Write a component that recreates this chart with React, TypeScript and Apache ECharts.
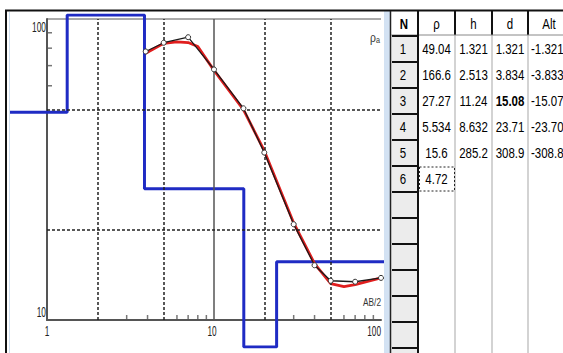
import { useEffect, useRef } from "react";
import * as echarts from "echarts";

// Field sounding curve: AB/2 spacing (m) and apparent resistivity (Ohm·m)
const ab2Field = [3.9, 5, 7, 10, 15, 20, 30, 40, 50, 70, 100];
const rhoField = [78, 83.4, 87, 68, 50.5, 36, 20.8, 15.2, 13.5, 13.4, 13.8];

// Theoretical curve of the layered model
const ab2Model = [3.9, 5, 6, 7, 8, 10, 15, 20, 30, 40, 50, 60, 70, 100];
const rhoModel = [77, 83, 84, 83.5, 81, 67.5, 50, 36.5, 21, 15.4, 13.2, 12.9, 13.1, 13.8];

// Layer table: resistivity, thickness, depth to bottom, altitude of bottom
const layerRho = [49.04, 166.6, 27.27, 5.534, 15.6, 4.72];
const layerH = [1.321, 2.513, 11.24, 8.632, 285.2];
const layerDepth = [1.321, 3.834, 15.08, 23.71, 308.9];
const layerAlt = [-1.321, -3.8337, -15.076, -23.708, -308.89];
const tableHeader = ["N", "ρ", "h", "d", "Alt"];

// Axis ranges, labels, grid lines and minor ticks
const X_MIN = 1;
const X_MAX = 100;
const Y_MIN = 10;
const Y_MAX = 100;
const xTickLabels = [1, 10, 100];
const yTickLabels = [10, 100];
const xDotted = [2, 5, 20, 50];
const xSolid = [10];
const yDotted = [20, 50];
const xMinorTicks = [3, 4, 6, 7, 8, 9, 30, 40, 60, 70, 80, 90];
const yMinorTicks = [60, 70, 80, 90];

const FONT = "'Liberation Sans', Arial, sans-serif";

// Plot frame and the wider viewport the layer model is drawn in
const PLOT = { left: 47, top: 19, right: 381, bottom: 320 };
const VIEW = { left: 11, top: 15, right: 382, bottom: 347 };

const pxPerDecX = (PLOT.right - PLOT.left) / Math.log10(X_MAX / X_MIN);
const pxPerDecY = (PLOT.bottom - PLOT.top) / Math.log10(Y_MAX / Y_MIN);
const viewXMin = X_MIN * Math.pow(10, (VIEW.left - PLOT.left) / pxPerDecX);
const viewXMax = X_MIN * Math.pow(10, (VIEW.right - PLOT.left) / pxPerDecX);
const viewYMin = Y_MIN * Math.pow(10, (PLOT.bottom - VIEW.bottom) / pxPerDecY);
const viewYMax = Y_MIN * Math.pow(10, (PLOT.bottom - VIEW.top) / pxPerDecY);

// Step line of the layered section; off-scale resistivities sit on the viewport edge
function modelSteps(): [number, number][] {
  const pts: [number, number][] = [];
  const clampY = (v: number) => Math.min(viewYMax, Math.max(viewYMin, v));
  layerRho.forEach((rho, i) => {
    const top = i === 0 ? viewXMin / 10 : layerDepth[i - 1];
    const bottom = i < layerDepth.length ? layerDepth[i] : viewXMax * 10;
    pts.push([top, clampY(rho)], [bottom, clampY(rho)]);
  });
  return pts;
}

const zip = (xs: number[], ys: number[]) => xs.map((x, i) => [x, ys[i]]);

const dotted = { color: "#222", width: 1.5, type: [3, 2] as number[] };
const solid = { color: "#555", width: 1.5, type: "solid" as const };

// Condensed text: a regular face squeezed horizontally
function narrowText(
  t: string,
  x: number,
  y: number,
  opts: { size?: number; scale?: number; bold?: boolean; align?: string; fill?: string } = {}
): any {
  return {
    type: "text",
    x,
    y,
    z: 10,
    scaleX: opts.scale ?? 0.82,
    style: {
      text: t,
      fill: opts.fill ?? "#000",
      fontSize: opts.size ?? 14,
      fontFamily: FONT,
      fontWeight: opts.bold ? "bold" : "normal",
      align: opts.align ?? "center",
      verticalAlign: "middle",
    },
  };
}

// Layer table drawn next to the plot
function tableGraphics(): any[] {
  const cols = [390, 418, 455, 492, 528, 570];
  const headTop = 11;
  const headBottom = 35;
  const rowH = 26;
  const nRows = 13;
  const H = 353;
  const els: any[] = [];
  const line = (x1: number, y1: number, x2: number, y2: number, stroke: string, lineWidth: number) => ({
    type: "line",
    z: 9,
    shape: { x1, y1, x2, y2 },
    style: { stroke, lineWidth },
  });

  // separator band and left border
  els.push({ type: "rect", z: 8, shape: { x: 384, y: 11, width: 6, height: H - 11 }, style: { fill: "#d3e2f3" } });
  els.push(line(390.5, 11, 390.5, H, "#222", 1.5));
  // N column background
  els.push({ type: "rect", z: 8, shape: { x: 391, y: headBottom, width: 27, height: H - headBottom }, style: { fill: "#ececec" } });
  // data column separators
  for (let c = 2; c <= 4; c++) els.push(line(cols[c], headBottom, cols[c], H, "#c4c4c4", 1.5));
  // header separators and bottom
  for (let c = 1; c <= 4; c++) els.push(line(cols[c], headTop, cols[c], headBottom, "#111", 2));
  els.push(line(391, headBottom, 563, headBottom, "#888", 1));
  els.push(line(418, headTop, 418, H, "#111", 2));
  // N column row separators
  for (let r = 0; r <= nRows; r++) {
    const y = headBottom + 1 + r * rowH;
    els.push(line(392, y, 418, y, "#111", 2));
  }
  // header labels
  tableHeader.forEach((h, c) =>
    els.push(narrowText(h, (cols[c] + cols[c + 1]) / 2, (headTop + headBottom) / 2 + 1, { bold: c === 0 }))
  );
  // rows
  layerRho.forEach((rho, i) => {
    const y = headBottom + 1 + i * rowH + rowH / 2;
    els.push(narrowText(String(i + 1), (cols[0] + cols[1]) / 2 - 1, y));
    els.push(narrowText(String(rho), (cols[1] + cols[2]) / 2, y));
    if (i < layerH.length) {
      els.push(narrowText(String(layerH[i]), (cols[2] + cols[3]) / 2, y));
      els.push(narrowText(String(layerDepth[i]), (cols[3] + cols[4]) / 2, y, { bold: i === 2 }));
      els.push(narrowText(String(layerAlt[i]), cols[4] + 3, y, { align: "left" }));
    }
  });
  // focus frame on the last edited cell
  const fr = layerRho.length - 1;
  els.push({
    type: "rect",
    z: 10,
    shape: { x: 419.5, y: headBottom + 1 + fr * rowH + 1, width: 35, height: rowH - 2 },
    style: { fill: "none", stroke: "#222", lineWidth: 1, lineDash: [2, 2] },
  });
  return els;
}

function frameGraphics(): any[] {
  return [
    { type: "line", z: 9, shape: { x1: 5, y1: 10.5, x2: 563, y2: 10.5 }, style: { stroke: "#111", lineWidth: 2 } },
    { type: "line", z: 9, shape: { x1: 6, y1: 10, x2: 6, y2: 353 }, style: { stroke: "#111", lineWidth: 2 } },
    { type: "line", z: 9, shape: { x1: 9.5, y1: 12, x2: 9.5, y2: 353 }, style: { stroke: "#cfdff0", lineWidth: 1 } },
    {
      type: "line",
      z: 1,
      shape: { x1: PLOT.left, y1: PLOT.top, x2: PLOT.right, y2: PLOT.top },
      style: { stroke: "#555", lineWidth: 1 },
    },
    {
      type: "text",
      x: 380,
      y: 37,
      z: 10,
      scaleX: 0.8,
      style: {
        text: "{r|ρ}{s|a}",
        align: "right",
        verticalAlign: "middle",
        rich: {
          r: { fontSize: 13, fontFamily: FONT, fill: "#333" },
          s: { fontSize: 9, fontFamily: FONT, fill: "#333", padding: [6, 0, 0, 0] },
        },
      },
    },
    narrowText("AB/2", 381, 302, { size: 11, scale: 0.75, align: "right", fill: "#333" }),
  ];
}

// Tick labels placed through the axes' own scales
function axisLabelGraphics(chart: echarts.ECharts): any[] {
  const els: any[] = [];
  xTickLabels.forEach((v, i) => {
    const [px, py] = chart.convertToPixel({ gridIndex: 0 }, [v, Y_MIN]) as number[];
    const last = i === xTickLabels.length - 1;
    els.push(
      narrowText(String(v), last ? px : px - (i === 0 ? 0 : 2), py + 11, {
        size: 15,
        scale: 0.55,
        align: last ? "right" : "center",
        fill: "#222",
      })
    );
  });
  yTickLabels.forEach((v) => {
    const [px, py] = chart.convertToPixel({ gridIndex: 0 }, [X_MIN, v]) as number[];
    const top = v === Y_MAX;
    els.push(narrowText(String(v), px - 1, top ? py + 8 : py - 8, { size: 14, scale: 0.6, align: "right", fill: "#222" }));
  });
  return els;
}

function buildOption(): any {
  const axisLineStyle = { color: "#555", width: 2 };
  return {
    animation: false,
    backgroundColor: "#fff",
    grid: [
      { left: PLOT.left, top: PLOT.top, width: PLOT.right - PLOT.left, height: PLOT.bottom - PLOT.top },
      { left: VIEW.left, top: VIEW.top, width: VIEW.right - VIEW.left, height: VIEW.bottom - VIEW.top },
    ],
    xAxis: [
      {
        type: "log",
        logBase: 10,
        gridIndex: 0,
        min: X_MIN,
        max: X_MAX,
        axisLine: { show: true, onZero: false, lineStyle: axisLineStyle },
        axisTick: { show: false },
        splitLine: { show: false },
        axisLabel: { show: false },
      },
      { type: "log", logBase: 10, gridIndex: 1, min: viewXMin, max: viewXMax, show: false },
    ],
    yAxis: [
      {
        type: "log",
        logBase: 10,
        gridIndex: 0,
        min: Y_MIN,
        max: Y_MAX,
        axisLine: { show: true, onZero: false, lineStyle: axisLineStyle },
        axisTick: { show: false },
        splitLine: { show: false },
        axisLabel: { show: false },
      },
      { type: "log", logBase: 10, gridIndex: 1, min: viewYMin, max: viewYMax, show: false },
    ],
    series: [
      {
        name: "x ticks",
        type: "scatter",
        xAxisIndex: 0,
        yAxisIndex: 0,
        data: xMinorTicks.map((v) => [v, Y_MIN]),
        symbol: "rect",
        symbolSize: [1.5, 5],
        symbolOffset: [0, -2.5],
        itemStyle: { color: "#555" },
        clip: false,
        silent: true,
        z: 1,
        markLine: {
          silent: true,
          symbol: ["none", "none"],
          label: { show: false },
          lineStyle: dotted,
          data: [
            ...xDotted.map((v) => ({ xAxis: v, lineStyle: dotted })),
            ...xSolid.map((v) => ({ xAxis: v, lineStyle: solid })),
            ...yDotted.map((v) => ({ yAxis: v, lineStyle: dotted })),
          ],
        },
      },
      {
        name: "y ticks",
        type: "scatter",
        xAxisIndex: 0,
        yAxisIndex: 0,
        data: yMinorTicks.map((v) => [X_MIN, v]),
        symbol: "rect",
        symbolSize: [5, 1.5],
        symbolOffset: [2.5, 0],
        itemStyle: { color: "#555" },
        clip: false,
        silent: true,
        z: 1,
      },
      {
        name: "model",
        type: "line",
        xAxisIndex: 1,
        yAxisIndex: 1,
        data: modelSteps(),
        symbol: "none",
        lineStyle: { color: "#1f2bc4", width: 3 },
        z: 3,
      },
      {
        name: "theoretical",
        type: "line",
        xAxisIndex: 0,
        yAxisIndex: 0,
        data: zip(ab2Model, rhoModel),
        symbol: "none",
        lineStyle: { color: "#e01e1e", width: 2.8 },
        z: 4,
      },
      {
        name: "field",
        type: "line",
        xAxisIndex: 0,
        yAxisIndex: 0,
        data: zip(ab2Field, rhoField),
        symbol: "circle",
        symbolSize: 5,
        showSymbol: true,
        lineStyle: { color: "#1a1a1a", width: 1.3 },
        itemStyle: { color: "#fff", borderColor: "#333", borderWidth: 1 },
        z: 5,
      },
    ],
  };
}

export default function App() {
  const ref = useRef<HTMLDivElement>(null);
  useEffect(() => {
    document.body.style.margin = "0";
    const chart = echarts.init(ref.current!, undefined, { renderer: "svg" });
    chart.setOption(buildOption());
    chart.setOption({ graphic: [...frameGraphics(), ...tableGraphics(), ...axisLabelGraphics(chart)] });
    return () => chart.dispose();
  }, []);
  return <div ref={ref} style={{ width: 563, height: 353 }} />;
}
